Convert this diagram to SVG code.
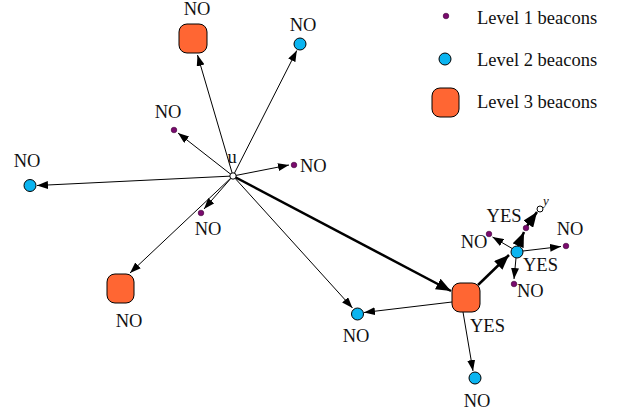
<svg xmlns="http://www.w3.org/2000/svg" width="619" height="416" viewBox="0 0 619 416">
<style>
.l1{fill:#7a0a6e;stroke:#3a0034;stroke-width:0.6}
.l2{fill:#0ab4f0;stroke:#000;stroke-width:1}
.l3{fill:#ff6633;stroke:#000;stroke-width:1}
.w{fill:#fff;stroke:#000;stroke-width:1}
.t{font-family:"Liberation Serif",serif;font-weight:400;font-size:18.5px;fill:#111}
.e{stroke:#000;stroke-width:1;fill:none;marker-end:url(#a)}
.b{stroke:#000;stroke-width:2.5;fill:none;marker-end:url(#ab)}
</style>
<defs>
<marker id="a" markerUnits="userSpaceOnUse" markerWidth="12" markerHeight="8" refX="11" refY="4" orient="auto"><path d="M0,0 L11,4 L0,8 z" fill="#000"/></marker>
<marker id="ab" markerUnits="userSpaceOnUse" markerWidth="16" markerHeight="12" refX="15" refY="6" orient="auto"><path d="M0,0 L15,6 L0,12 z" fill="#000"/></marker>
</defs>
<g id="connectors">
<line class="e" x1="233" y1="176" x2="197.5" y2="55"/>
<line class="e" x1="233" y1="176" x2="296.8" y2="50.5"/>
<line class="e" x1="233" y1="176" x2="178" y2="133"/>
<line class="e" x1="233" y1="176" x2="289" y2="165"/>
<line class="e" x1="233" y1="176" x2="37" y2="185.5"/>
<line class="e" x1="233" y1="176" x2="204" y2="209"/>
<line class="e" x1="233" y1="176" x2="130" y2="273"/>
<line class="e" x1="233" y1="176" x2="352.5" y2="308"/>
<line class="b" x1="233" y1="176" x2="451" y2="291"/>
<line class="e" x1="452" y1="302" x2="364" y2="312.5"/>
<line class="e" x1="463" y1="312" x2="473" y2="371"/>
<line class="b" x1="478" y1="285" x2="509" y2="255"/>
<line class="b" x1="518" y1="246" x2="524" y2="232"/>
<line class="b" x1="527" y1="226" x2="537" y2="212"/>
<line class="e" x1="513" y1="249" x2="492.5" y2="237"/>
<line class="e" x1="523" y1="251" x2="561" y2="246.5"/>
<line class="e" x1="516" y1="258" x2="514" y2="279"/>
</g>
<g id="u"><circle class="w" cx="233" cy="176" r="3.2"/><text class="t" x="232" y="163" text-anchor="middle">u</text></g>
<g id="n-top-l3"><rect class="l3" x="179" y="24" width="28" height="29" rx="8"/><text class="t" x="197" y="15" text-anchor="middle">NO</text></g>
<g id="n-top-l2"><circle class="l2" cx="300" cy="44" r="6"/><text class="t" x="303" y="31" text-anchor="middle">NO</text></g>
<g id="n-ul-l1"><circle class="l1" cx="174" cy="130" r="2.8"/><text class="t" x="168" y="118" text-anchor="middle">NO</text></g>
<g id="n-r-l1"><circle class="l1" cx="294" cy="165" r="2.8"/><text class="t" x="300" y="172">NO</text></g>
<g id="n-left-l2"><circle class="l2" cx="30" cy="185.5" r="6"/><text class="t" x="27" y="167" text-anchor="middle">NO</text></g>
<g id="n-low-l1"><circle class="l1" cx="201" cy="213" r="2.8"/><text class="t" x="208" y="235" text-anchor="middle">NO</text></g>
<g id="n-left-l3"><rect class="l3" x="107" y="274" width="27" height="29" rx="8"/><text class="t" x="129" y="327" text-anchor="middle">NO</text></g>
<g id="n-mid-l2"><circle class="l2" cx="357.5" cy="314" r="6"/><text class="t" x="356" y="342" text-anchor="middle">NO</text></g>
<g id="n-big-l3"><rect class="l3" x="452" y="283" width="28" height="29" rx="8"/><text class="t" x="470" y="332">YES</text></g>
<g id="n-bot-l2"><circle class="l2" cx="475" cy="378" r="6"/><text class="t" x="477" y="407" text-anchor="middle">NO</text></g>
<g id="n-right-l2"><circle class="l2" cx="517" cy="252" r="6"/><text class="t" x="523" y="271">YES</text></g>
<g id="n-up-l1"><circle class="l1" cx="526" cy="228" r="2.8"/><text class="t" x="504" y="222" text-anchor="middle">YES</text></g>
<g id="n-y"><circle class="w" cx="540" cy="209" r="3"/><text class="t" x="546" y="205" style="font-size:13px;font-style:italic" text-anchor="middle">y</text></g>
<g id="n-cl-l1"><circle class="l1" cx="489" cy="234" r="2.8"/><text class="t" x="474" y="248" text-anchor="middle">NO</text></g>
<g id="n-cr-l1"><circle class="l1" cx="566" cy="246" r="2.8"/><text class="t" x="570" y="235" text-anchor="middle">NO</text></g>
<g id="n-cb-l1"><circle class="l1" cx="514" cy="284" r="2.8"/><text class="t" x="517" y="297">NO</text></g>
<g id="legend">
<circle class="l1" cx="446" cy="16" r="2.8"/><text class="t" x="477" y="24">Level 1 beacons</text>
<circle class="l2" cx="445" cy="59" r="6"/><text class="t" x="477" y="66">Level 2 beacons</text>
<rect class="l3" x="432" y="88" width="27" height="29" rx="8"/><text class="t" x="477" y="108">Level 3 beacons</text>
</g>
</svg>
